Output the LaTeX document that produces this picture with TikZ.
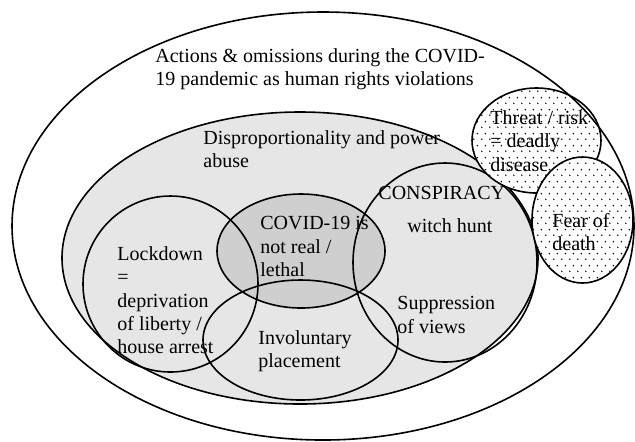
\documentclass[tikz,border=0pt]{standalone}
\usepackage{fontspec}
\setmainfont{Liberation Serif}
\usetikzlibrary{shapes.geometric,patterns}
\definecolor{lite}{HTML}{E6E6E6}
\definecolor{dark}{HTML}{D0CFCF}
\pgfdeclarepatternformonly{sparsedots}{\pgfpointorigin}{\pgfqpoint{4pt}{6pt}}{\pgfqpoint{4pt}{6pt}}{%
    \pgfpathcircle{\pgfqpoint{1pt}{1.5pt}}{0.45pt}%
    \pgfpathcircle{\pgfqpoint{3pt}{4.5pt}}{0.45pt}%
    \pgfusepath{fill}%
}
\tikzset{
    setline/.style={ellipse, draw, line width=0.8pt, inner sep=0pt, outer sep=0pt},
    dotset/.style={setline, fill=white, postaction={pattern=sparsedots}},
    txt/.style={anchor=north west, inner sep=0pt, align=left,
        font=\fontsize{10}{11.7}\selectfont},
}

\begin{document}
\begin{tikzpicture}[x=0.5pt, y=-0.5pt]
        \useasboundingbox (0,0) rectangle (635,441);

        % the sets
        \node[setline, fill=lite, minimum width=238pt, minimum height=146pt] (abuse) at (300,258) {};
        \node[setline, fill=dark, minimum width=84pt, minimum height=57pt] (covid) at (301,251) {};
        \node[setline, minimum width=87.5pt, minimum height=88pt] (lockdown) at (170.5,284) {};
        \node[setline, minimum width=97.5pt, minimum height=60pt] (placement) at (300.5,340) {};
        \node[setline, minimum width=92pt, minimum height=99.5pt] (conspiracy) at (445,262.5) {};
        \node[dotset, minimum width=64.5pt, minimum height=52.5pt] (threat) at (536.5,140.5) {};
        \node[dotset, minimum width=50.5pt, minimum height=63pt] (fear) at (582.5,220) {};
        \node[setline, minimum width=311pt, minimum height=214pt] (outer) at (323,226) {};

        % the texts
        \node[txt] (titletxt) at (155,48) {Actions \& omissions during the COVID-\\19 pandemic as human rights violations};
        \node[txt] (abusetxt) at (203,130) {Disproportionality and power\\abuse};
        \node[txt] (lockdowntxt) at (117,246) {Lockdown\\=\\deprivation\\of liberty /\\house arrest};
        \node[txt] (covidtxt) at (260,216) {COVID-19 is\\not real /\\lethal};
        \node[txt] (placementtxt) at (258,330) {Involuntary\\placement};
        \node[txt] (consptxt) at (378,186) {CONSPIRACY};
        \node[txt] (witchtxt) at (407,218) {witch hunt};
        \node[txt] (viewstxt) at (397,296) {Suppression\\of views};
        \node[txt] (threattxt) at (490,110) {Threat / risk\\= deadly\\disease};
        \node[txt] (feartxt) at (552,213) {Fear of\\death};
\end{tikzpicture}
\end{document}
